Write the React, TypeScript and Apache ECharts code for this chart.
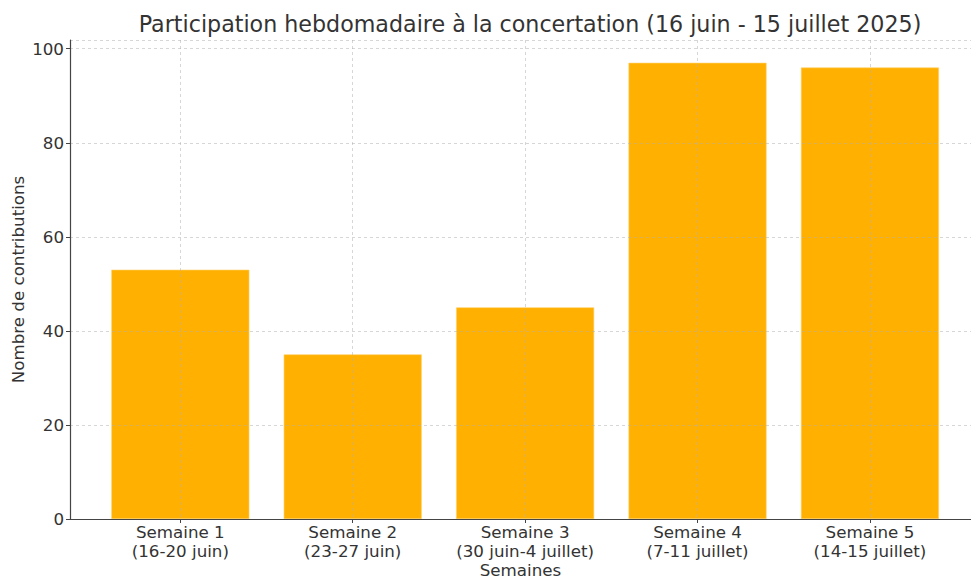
import React, { useEffect, useRef } from "react";
import * as echarts from "echarts";

const categories: string[] = [
  "Semaine 1\n(16-20 juin)",
  "Semaine 2\n(23-27 juin)",
  "Semaine 3\n(30 juin-4 juillet)",
  "Semaine 4\n(7-11 juillet)",
  "Semaine 5\n(14-15 juillet)",
];
const contributions: number[] = [53, 35, 45, 97, 96];
const yTicks: number[] = [0, 20, 40, 60, 80, 100];

const FONT = "DejaVu Sans";

export default function App() {
  const ref = useRef<HTMLDivElement>(null);
  useEffect(() => {
    if (!ref.current) return;
    const chart = echarts.init(ref.current, undefined, { renderer: "svg" });
    const positions = categories.map((_, i) => i);
    const gridLine = {
      show: true,
      lineStyle: { color: "rgba(176,176,176,0.65)", type: [3, 3], width: 0.8 },
    };
    chart.setOption({
      animation: false,
      backgroundColor: "#ffffff",
      title: {
        text: "Participation hebdomadaire à la concertation (16 juin - 15 juillet 2025)",
        left: 525,
        textAlign: "center",
        top: 8,
        textStyle: { fontFamily: FONT, fontSize: 22.2, fontWeight: "normal", color: "#333333" },
      },
      grid: {
        left: 70,
        right: 0,
        top: 40,
        bottom: 60,
        containLabel: false,
        outerBoundsMode: "none",
      },
      xAxis: {
        type: "value",
        min: -0.64,
        max: -0.64 + 901 / 172.4,
        z: 3,
        name: "Semaines",
        nameLocation: "middle",
        nameGap: 51,
        nameMoveOverlap: false,
        nameTextStyle: {
          fontFamily: FONT,
          fontSize: 16.7,
          lineHeight: 16,
          color: "#333333",
          verticalAlign: "middle",
        },
        axisLine: { show: true, onZero: false, lineStyle: { color: "#444444", width: 1.2 } },
        axisTick: {
          show: true,
          length: 4,
          customValues: positions,
          lineStyle: { color: "#444444", width: 1 },
        },
        axisLabel: {
          customValues: positions,
          margin: 3,
          fontFamily: FONT,
          fontSize: 16.7,
          lineHeight: 19.5,
          color: "#333333",
          formatter: (v: number) => categories[Math.round(v)] ?? "",
        },
        splitLine: gridLine,
      },
      yAxis: {
        type: "value",
        min: 0,
        max: 101.85,
        interval: 20,
        z: 3,
        name: "Nombre de contributions",
        nameLocation: "middle",
        nameGap: 52,
        nameMoveOverlap: false,
        nameTextStyle: {
          fontFamily: FONT,
          fontSize: 16.7,
          color: "#333333",
          verticalAlign: "middle",
        },
        axisLine: { show: true, onZero: false, lineStyle: { color: "#444444", width: 1.2 } },
        axisTick: { show: true, length: 4, lineStyle: { color: "#444444", width: 1 } },
        axisLabel: {
          margin: 6,
          fontFamily: FONT,
          fontSize: 16.7,
          color: "#333333",
          formatter: (v: number) => (yTicks.includes(v) ? String(v) : ""),
          showMaxLabel: false,
        },
        splitLine: gridLine,
      },
      series: [
        {
          type: "bar",
          data: contributions.map((v, i) => [i, v]),
          barWidth: 138,
          itemStyle: { color: "#FFB000", borderColor: "#FFD066", borderWidth: 0.6 },
          z: 2,
        },
      ],
    });
    return () => chart.dispose();
  }, []);
  return (
    <div
      ref={ref}
      style={{ position: "fixed", left: 0, top: 0, width: 971, height: 579, background: "#fff" }}
    />
  );
}
